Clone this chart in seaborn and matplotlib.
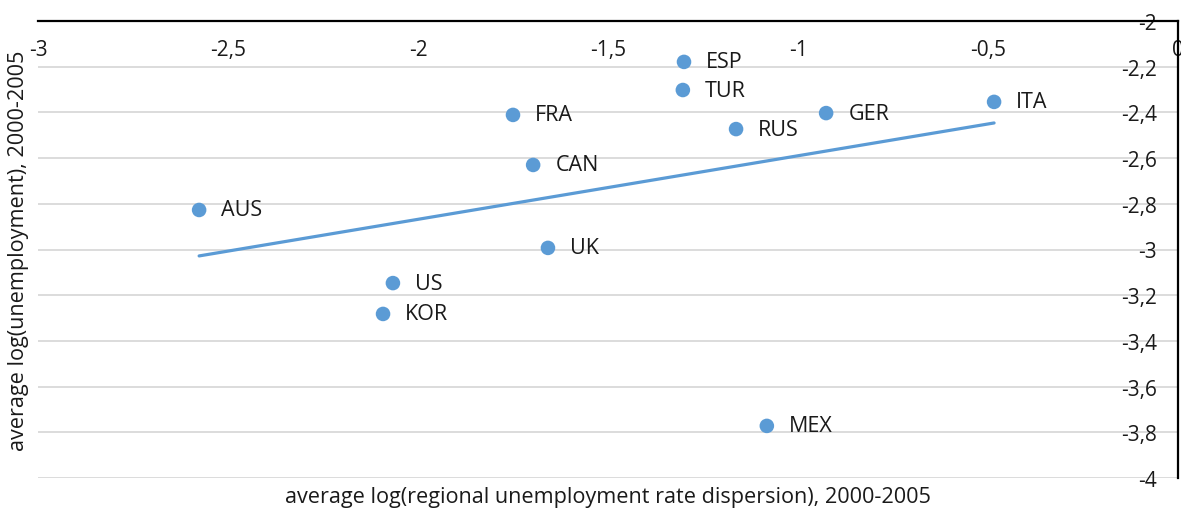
import matplotlib
matplotlib.use("Agg")
import matplotlib.pyplot as plt
import matplotlib.ticker as mticker
import seaborn as sns
import pandas as pd

# values
countries = ["AUS", "US", "KOR", "FRA", "CAN", "UK", "ESP", "TUR", "RUS", "GER", "ITA", "MEX"]
dispersion = [-2.576, -2.066, -2.092, -1.750, -1.697, -1.658, -1.300, -1.303, -1.163, -0.926, -0.484, -1.082]
unemployment = [-2.827, -3.147, -3.282, -2.411, -2.630, -2.993, -2.179, -2.302, -2.473, -2.403, -2.354, -3.772]

df = pd.DataFrame({"country": countries, "x": dispersion, "y": unemployment})

sns.set_style("white")
plt.rcParams["font.family"] = ["Open Sans", "DejaVu Sans"]
blue = "#5B9BD5"
txt = "#1a1a1a"

fig = plt.figure(figsize=(11.81, 5.10), dpi=100)
ax = fig.add_axes([38 / 1181, 1 - 479 / 510, 1140 / 1181, 457 / 510])

sns.regplot(data=df, x="x", y="y", ax=ax, ci=None, color=blue,
            scatter_kws={"s": 110, "alpha": 1, "edgecolor": "none", "zorder": 3},
            line_kws={"linewidth": 2.3, "zorder": 2})

for c, x, y in zip(countries, dispersion, unemployment):
    ax.annotate(c, (x, y), xytext=(16, 0), textcoords="offset points",
                va="center", ha="left", fontsize=15.5, color=txt)

ax.set_xlim(-3, 0)
ax.set_ylim(-4, -2)
ax.set_xticks([-3, -2.5, -2, -1.5, -1, -0.5, 0])
ax.set_yticks([-2, -2.2, -2.4, -2.6, -2.8, -3, -3.2, -3.4, -3.6, -3.8, -4])

comma = mticker.FuncFormatter(lambda v, p: ("%g" % v).replace(".", ","))
ax.xaxis.set_major_formatter(comma)
ax.yaxis.set_major_formatter(comma)

# axes cross at the top-right corner, Excel style
ax.spines["bottom"].set_position(("data", -2))
ax.spines["left"].set_position(("data", 0))
ax.spines["top"].set_visible(False)
ax.spines["right"].set_visible(False)
for s in ["bottom", "left"]:
    ax.spines[s].set_color("black")
    ax.spines[s].set_linewidth(1.6)
    ax.spines[s].set_zorder(4)

ax.tick_params(axis="both", direction="out", length=6, width=1.2, color="black",
               labelsize=15, labelcolor=txt)
ax.tick_params(axis="x", pad=7)
ax.tick_params(axis="y", pad=9)
ax.yaxis.grid(True, color="#D9D9D9", linewidth=1.3)
ax.set_axisbelow(True)

ax.set_xlabel("average log(regional unemployment rate dispersion), 2000-2005",
              fontsize=15.6, color=txt)
ax.set_ylabel("average log(unemployment), 2000-2005", fontsize=15.6, color=txt)
ax.xaxis.set_label_coords(0.5, -0.04)
ax.xaxis.label.set_va("center")
ax.yaxis.set_label_coords(-0.0175, 0.5)
ax.yaxis.label.set_va("center")

fig.savefig("out.png", dpi=100)
